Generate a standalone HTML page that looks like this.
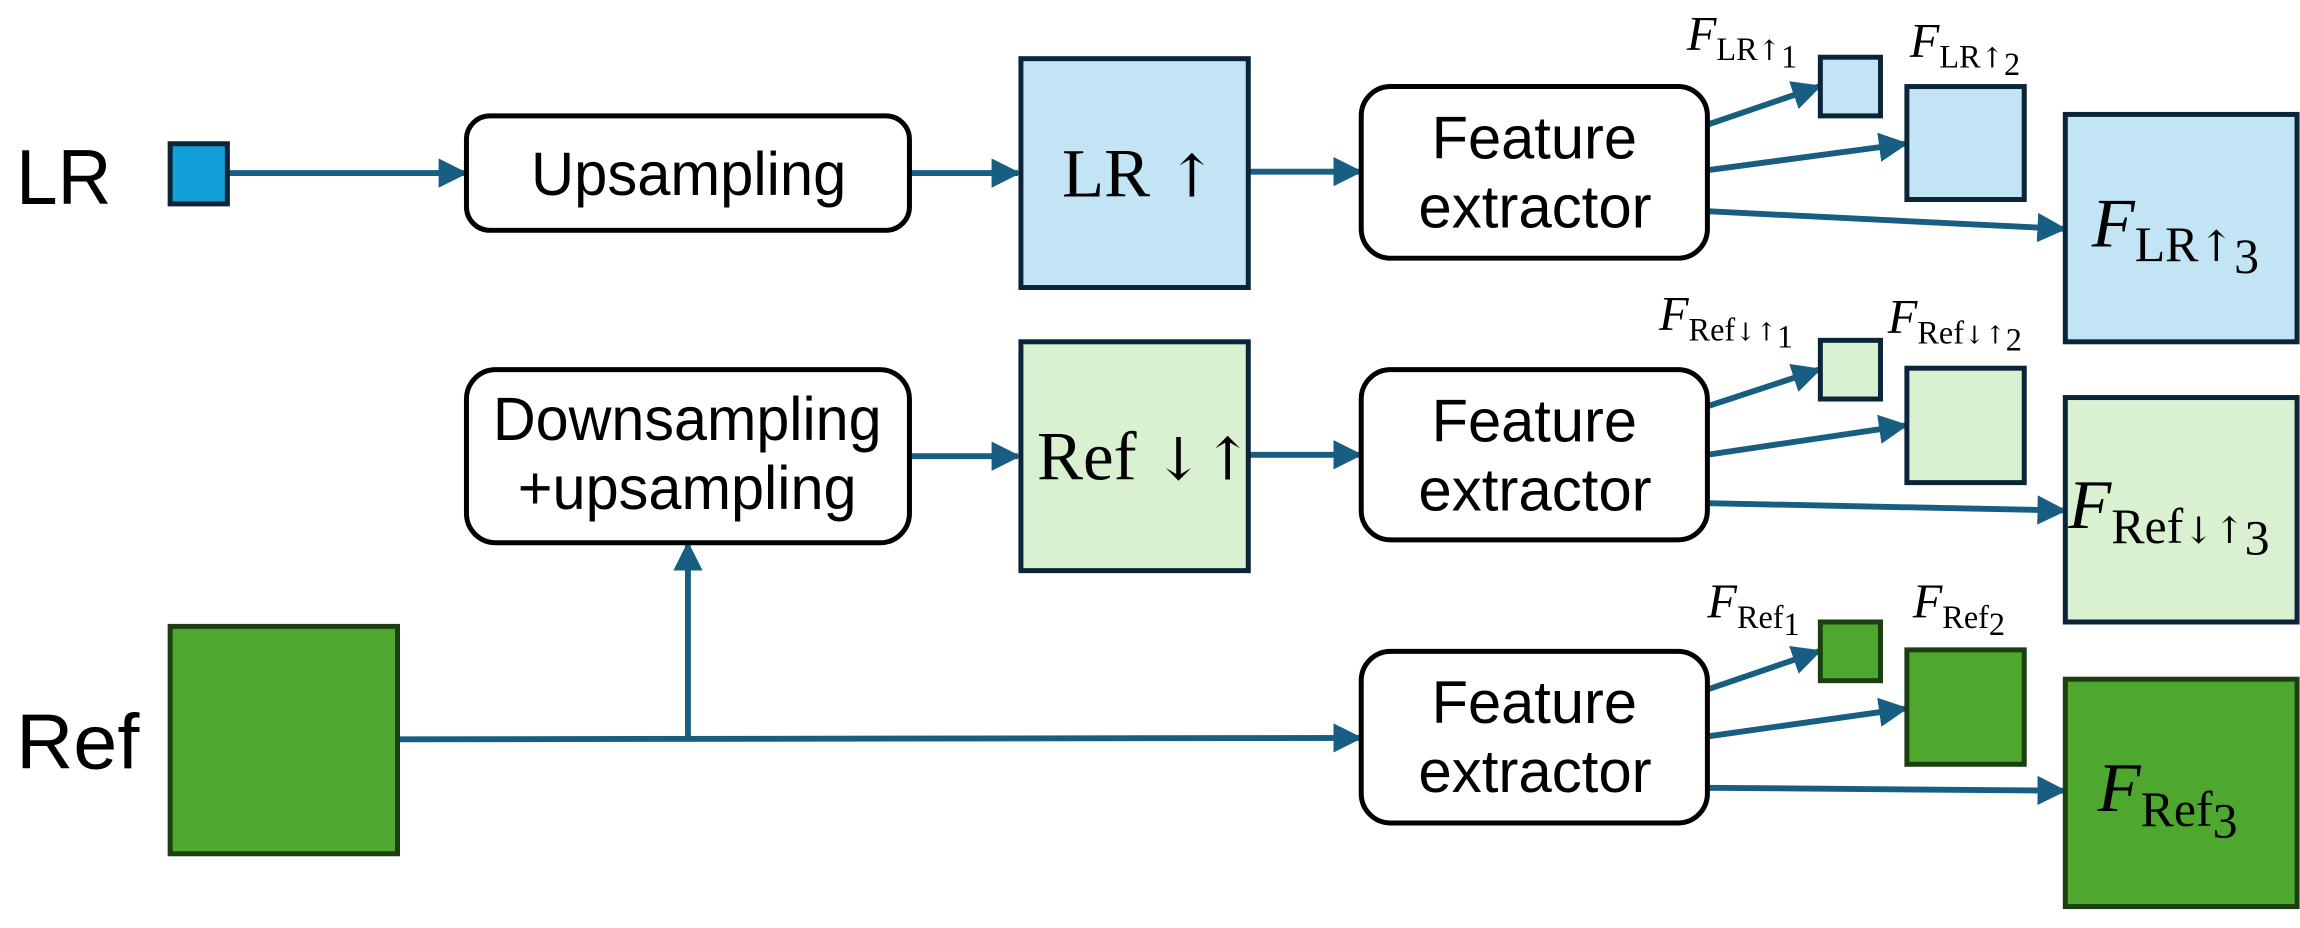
<!DOCTYPE html>
<html><head><meta charset="utf-8"><style>
html,body{margin:0;padding:0;background:#fff;}
svg{display:block;}
.s{font-family:"Liberation Sans",sans-serif;}
.m{font-family:"Liberation Serif",serif;}
.ar{font-family:"DejaVu Serif",serif;}
</style></head><body>
<svg width="2300" height="928" viewBox="0 0 1568 632.6" preserveAspectRatio="none" xmlns="http://www.w3.org/2000/svg">
<defs>
<marker id="a" markerWidth="5" markerHeight="5" refX="4.5" refY="2.5" orient="auto" markerUnits="strokeWidth">
<path d="M0,0 L5,2.5 L0,5 Z" fill="#175e82"/></marker>
</defs>
<g stroke="#175e82" stroke-width="4" fill="none" marker-end="url(#a)">
<line x1="155" y1="118" x2="317" y2="118"/>
<line x1="620" y1="118" x2="694" y2="118"/>
<line x1="852" y1="117" x2="927" y2="117"/>
<line x1="1164" y1="85" x2="1240" y2="59"/>
<line x1="1164" y1="116" x2="1299" y2="98"/>
<line x1="1164" y1="144" x2="1407" y2="156"/>
<line x1="620" y1="311" x2="694" y2="311"/>
<line x1="852" y1="310" x2="927" y2="310"/>
<line x1="1164" y1="277" x2="1240" y2="252"/>
<line x1="1164" y1="310" x2="1299" y2="290"/>
<line x1="1164" y1="343" x2="1407" y2="348"/>
<line x1="271" y1="504" x2="927" y2="503"/>
<line x1="469" y1="504" x2="469" y2="371"/>
<line x1="1164" y1="470" x2="1240" y2="444"/>
<line x1="1164" y1="502" x2="1299" y2="483"/>
<line x1="1164" y1="537" x2="1407" y2="539"/>
</g>
<g stroke-width="3.4" stroke="#0a2538">
<rect x="116" y="98" width="39" height="41" fill="#139fd8"/>
<rect x="696" y="40" width="155" height="156" fill="#c2e4f4"/>
<rect x="1241" y="39" width="41" height="40" fill="#c2e4f4"/>
<rect x="1300" y="59" width="80" height="77" fill="#c2e4f4"/>
<rect x="1408" y="78" width="158" height="155" fill="#c2e4f4"/>
<rect x="696" y="233" width="155" height="156" fill="#d9f1d1"/>
<rect x="1241" y="232" width="41" height="40" fill="#d9f1d1"/>
<rect x="1300" y="251" width="80" height="78" fill="#d9f1d1"/>
<rect x="1408" y="271" width="158" height="153" fill="#d9f1d1"/>
</g>
<g stroke-width="3.4" stroke="#1c3f12" fill="#4ea72e">
<rect x="116" y="427" width="155" height="155"/>
<rect x="1241" y="424" width="41" height="40"/>
<rect x="1300" y="443" width="80" height="78"/>
<rect x="1408" y="463" width="158" height="155"/>
</g>
<g stroke="#000" stroke-width="3.4" fill="#fff">
<rect x="318" y="79" width="302" height="78" rx="16"/>
<rect x="318" y="252" width="302" height="118" rx="20"/>
<rect x="928" y="59" width="236" height="117" rx="20"/>
<rect x="928" y="252" width="236" height="116" rx="20"/>
<rect x="928" y="444" width="236" height="117" rx="20"/>
</g>
<g class="s" fill="#000">
<text x="11" y="139" font-size="53" textLength="65" lengthAdjust="spacingAndGlyphs">LR</text>
<text x="11" y="524" font-size="53" textLength="84" lengthAdjust="spacingAndGlyphs">Ref</text>
<text x="362" y="133" font-size="42" textLength="215" lengthAdjust="spacingAndGlyphs">Upsampling</text>
<text x="336" y="300" font-size="42" textLength="265" lengthAdjust="spacingAndGlyphs">Downsampling</text>
<text x="353" y="347" font-size="42" textLength="231" lengthAdjust="spacingAndGlyphs">+upsampling</text>
<g>
<text x="976" y="108" font-size="41" textLength="140" lengthAdjust="spacingAndGlyphs">Feature</text>
<text x="967" y="155" font-size="41" textLength="159" lengthAdjust="spacingAndGlyphs">extractor</text>
<text x="976" y="301" font-size="41" textLength="140" lengthAdjust="spacingAndGlyphs">Feature</text>
<text x="967" y="348" font-size="41" textLength="159" lengthAdjust="spacingAndGlyphs">extractor</text>
<text x="976" y="493" font-size="41" textLength="140" lengthAdjust="spacingAndGlyphs">Feature</text>
<text x="967" y="540" font-size="41" textLength="159" lengthAdjust="spacingAndGlyphs">extractor</text>
</g>
</g>
<g class="m" fill="#000">
<text x="724" y="134" font-size="47">LR <tspan class="ar" font-size="40">↑</tspan></text>
<text x="707" y="327" font-size="47">Ref <tspan class="ar" font-size="40">↓↑</tspan></text>
<text x="1150" y="34" font-size="33"><tspan font-style="italic">F</tspan><tspan font-size="22" dy="7">LR</tspan><tspan class="ar" font-size="19">↑</tspan><tspan font-size="22" dy="5">1</tspan></text>
<text x="1302" y="39" font-size="33"><tspan font-style="italic">F</tspan><tspan font-size="22" dy="7">LR</tspan><tspan class="ar" font-size="19">↑</tspan><tspan font-size="22" dy="5">2</tspan></text>
<text x="1426" y="168" font-size="48"><tspan font-style="italic">F</tspan><tspan font-size="34" dy="10">LR</tspan><tspan class="ar" font-size="29">↑</tspan><tspan font-size="34" dy="8">3</tspan></text>
<text x="1131" y="225" font-size="33"><tspan font-style="italic">F</tspan><tspan font-size="22" dy="7">Ref</tspan><tspan class="ar" font-size="17">↓↑</tspan><tspan font-size="22" dy="5">1</tspan></text>
<text x="1287" y="227" font-size="33"><tspan font-style="italic">F</tspan><tspan font-size="22" dy="7">Ref</tspan><tspan class="ar" font-size="17">↓↑</tspan><tspan font-size="22" dy="5">2</tspan></text>
<text x="1410" y="360" font-size="48"><tspan font-style="italic">F</tspan><tspan font-size="34" dy="10">Ref</tspan><tspan class="ar" font-size="25">↓↑</tspan><tspan font-size="34" dy="8">3</tspan></text>
<text x="1164" y="421" font-size="33"><tspan font-style="italic">F</tspan><tspan font-size="22" dy="7">Ref</tspan><tspan font-size="22" dy="5">1</tspan></text>
<text x="1304" y="421" font-size="33"><tspan font-style="italic">F</tspan><tspan font-size="22" dy="7">Ref</tspan><tspan font-size="22" dy="5">2</tspan></text>
<text x="1430" y="553" font-size="48"><tspan font-style="italic">F</tspan><tspan font-size="34" dy="10">Ref</tspan><tspan font-size="34" dy="8">3</tspan></text>
</g>
</svg>
</body></html>
